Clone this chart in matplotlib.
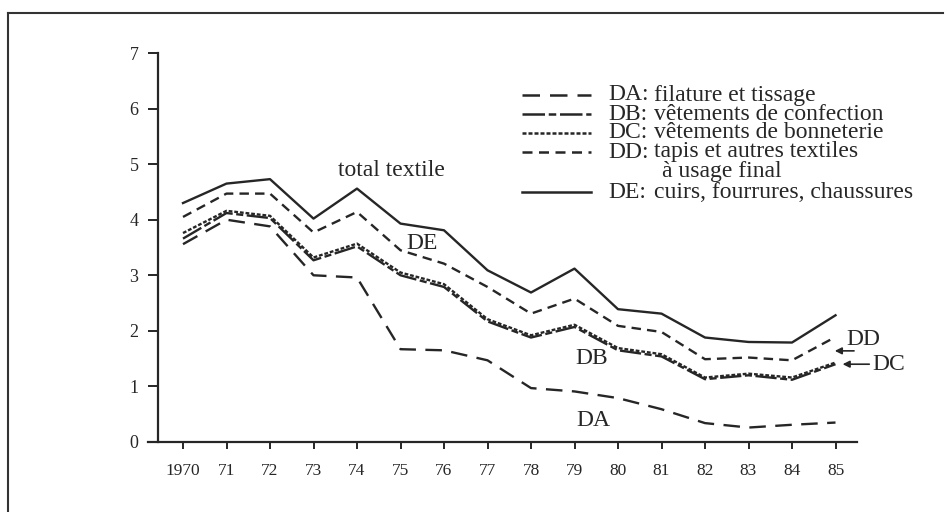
import matplotlib
matplotlib.use("Agg")
import matplotlib.pyplot as plt
from matplotlib.lines import Line2D

plt.rcParams['font.family'] = ['Liberation Serif', 'DejaVu Serif']

# values
years = list(range(1970, 1986))
year_labels = ['1970'] + [str(y)[2:] for y in years[1:]]
total = [4.30, 4.65, 4.73, 4.02, 4.56, 3.93, 3.81, 3.09, 2.69, 3.12, 2.39, 2.31, 1.88, 1.80, 1.79, 2.28]
dd = [4.05, 4.47, 4.47, 3.77, 4.14, 3.45, 3.21, 2.79, 2.31, 2.58, 2.09, 1.98, 1.49, 1.52, 1.47, 1.89]
dc = [3.76, 4.16, 4.07, 3.32, 3.57, 3.05, 2.84, 2.21, 1.92, 2.11, 1.69, 1.58, 1.16, 1.23, 1.16, 1.43]
db = [3.66, 4.12, 4.03, 3.27, 3.52, 3.00, 2.79, 2.17, 1.88, 2.07, 1.65, 1.54, 1.13, 1.20, 1.12, 1.40]
da = [3.56, 4.00, 3.88, 3.00, 2.96, 1.67, 1.65, 1.47, 0.97, 0.91, 0.79, 0.59, 0.34, 0.26, 0.31, 0.35]

legend_codes = ['DA', 'DB', 'DC', 'DD', 'DE']
legend_texts = ['filature et tissage', 'vêtements de confection', 'vêtements de bonneterie',
                'tapis et autres textiles', 'cuirs, fourrures, chaussures']

ink = '#262626'
styles = {
    'DA': (0, (7, 4)),
    'DB': (0, (9, 1.5, 3, 1.5)),
    'DC': (0, (1.6, 0.8)),
    'DD': (0, (4, 2.6)),
    'DE': '-',
}

W, H = 947, 512
fig = plt.figure(figsize=(W / 100, H / 100), dpi=100)
fig.patch.set_facecolor('white')

# axes placed so that 1970 sits at x=183px, one year = 43.5px, y 0..7 from 442px to 53px
x0, x1 = 148, 857
ax = fig.add_axes([x0 / W, (H - 442) / H, (x1 - x0) / W, (442 - 53) / H])
ax.set_xlim(1970 - 35 / 43.5, 1970 + 674 / 43.5)
ax.set_ylim(0, 7)

ax.plot(years, da, color=ink, lw=1.7, ls=styles['DA'])
ax.plot(years, db, color=ink, lw=1.7, ls=styles['DB'])
ax.plot(years, dc, color=ink, lw=1.7, ls=styles['DC'])
ax.plot(years, dd, color=ink, lw=1.7, ls=styles['DD'])
ax.plot(years, total, color=ink, lw=1.7, ls='-')

for s in ['top', 'right']:
    ax.spines[s].set_visible(False)
ax.spines['left'].set_position(('data', 1970 - 25 / 43.5))
ax.spines['left'].set_bounds(0, 7)
for s in ['left', 'bottom']:
    ax.spines[s].set_linewidth(1.6)
    ax.spines[s].set_color(ink)

ax.set_xticks(years)
ax.set_xticklabels(year_labels)
ax.set_yticks(range(0, 8))
ax.tick_params(axis='x', direction='out', length=5, width=1.4, color=ink,
               labelsize=12.5, pad=10, labelcolor=ink)
ax.tick_params(axis='y', direction='out', length=7, width=1.4, color=ink,
               labelsize=13, pad=7, labelcolor=ink)

# labels in the plot
fs = 17
ax.text(1974.80, 4.88, 'total textile', fontsize=fs, color=ink, ha='center', va='center')
ax.text(1975.49, 3.58, 'DE', fontsize=fs, color=ink, ha='center', va='center')
ax.text(1979.40, 1.51, 'DB', fontsize=fs, color=ink, ha='center', va='center')
ax.text(1979.43, 0.39, 'DA', fontsize=fs, color=ink, ha='center', va='center')
ax.text(1985.26, 1.85, 'DD', fontsize=fs, color=ink, ha='left', va='center', clip_on=False)
ax.text(1985.84, 1.39, 'DC', fontsize=fs, color=ink, ha='left', va='center', clip_on=False)
ax.annotate('', xy=(1984.92, 1.64), xytext=(1985.49, 1.64),
            arrowprops=dict(arrowstyle='-|>', color=ink, lw=1.2, mutation_scale=10),
            annotation_clip=False)
ax.annotate('', xy=(1985.10, 1.40), xytext=(1985.84, 1.40),
            arrowprops=dict(arrowstyle='-|>', color=ink, lw=1.2, mutation_scale=10),
            annotation_clip=False)

# legend drawn by hand (pixel rows)
rows = [95, 114, 133, 152, 192]
for code, txt, ypx in zip(legend_codes, legend_texts, rows):
    yf = 1 - ypx / H
    fig.add_artist(Line2D([522 / W, 591 / W], [yf, yf], color=ink, lw=1.8, ls=styles[code]))
    fig.text(608 / W, yf, code + ':', fontsize=17, color=ink, va='center')
    fig.text(654 / W, yf, txt, fontsize=17, color=ink, va='center')
fig.text(662 / W, 1 - 171 / H, 'à usage final', fontsize=17, color=ink, va='center')

# scanned page frame
fig.add_artist(Line2D([8 / W, 8 / W], [0, 1 - 13 / H], color='#333333', lw=1.5))
fig.add_artist(Line2D([8 / W, 943 / W], [1 - 13 / H, 1 - 13 / H], color='#333333', lw=1.5))

fig.savefig('out.png', dpi=100, facecolor='white')
